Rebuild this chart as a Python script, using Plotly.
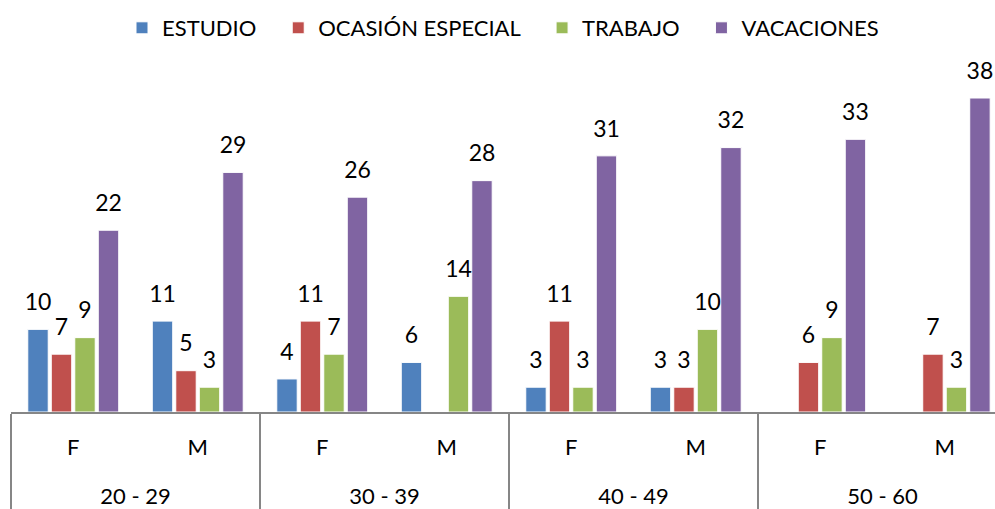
import plotly.graph_objects as go

age_groups = ["20 - 29", "20 - 29", "30 - 39", "30 - 39", "40 - 49", "40 - 49", "50 - 60", "50 - 60"]
sexes = ["F", "M", "F", "M", "F", "M", "F", "M"]

estudio = [10, 11, 4, 6, 3, 3, None, None]
ocasion = [7, 5, 11, None, 11, 3, 6, 7]
trabajo = [9, 3, 7, 14, 3, 10, 9, 3]
vacaciones = [22, 29, 26, 28, 31, 32, 33, 38]

series_names = ["ESTUDIO", "OCASIÓN ESPECIAL", "TRABAJO", "VACACIONES"]
series_values = [estudio, ocasion, trabajo, vacaciones]
series_colors = ["#4F81BD", "#C0504D", "#9BBB59", "#8064A2"]

# inner labels get an invisible tall second line so the outer level sits lower
sex_labels = [s + "<br><span style='font-size:52px'>&nbsp;</span>" for s in sexes]
xcats = [age_groups, sex_labels]

BARGAP = 0.245
fig = go.Figure()
for i, (name, vals, color) in enumerate(zip(series_names, series_values, series_colors)):
    pad = "&nbsp;" * 3 if i < len(series_names) - 1 else ""
    fig.add_trace(go.Bar(
        name=name + pad,
        x=xcats,
        y=vals,
        marker=dict(color=color, line=dict(color="white", width=1)),
        hovertemplate=name + ": %{y}<extra></extra>",
    ))
for name, vals, color in zip(series_names, series_values, series_colors):
    fig.add_trace(go.Scatter(
        x=xcats,
        y=vals,
        mode="markers+text",
        orientation="v",
        marker=dict(size=20, opacity=0, color=color),
        text=[("" if v is None else str(v)) for v in vals],
        textposition="top center",
        textfont=dict(size=23, color="black"),
        showlegend=False,
        hoverinfo="skip",
        cliponaxis=False,
    ))

FONT = "Lato, Carlito, Calibri, sans-serif"
fig.update_layout(
    width=995, height=509,
    margin=dict(l=11, r=0, t=60, b=97),
    paper_bgcolor="white", plot_bgcolor="white",
    font=dict(family=FONT, size=20, color="black"),
    barmode="group",
    bargap=BARGAP,
    bargroupgap=0.13,
    scattermode="group",
    scattergap=BARGAP,
    showlegend=True,
    legend=dict(orientation="h", x=0.5, xanchor="center", y=1 - 28 / 509, yanchor="middle",
                yref="container", font=dict(size=22), itemclick=False),
    xaxis=dict(
        type="multicategory",
        range=[-0.5, 7.404],
        automargin=False,
        showline=True, linecolor="#868686", linewidth=2,
        ticks="", showgrid=False,
        ticklabelstandoff=15,
        showdividers=True, dividercolor="#868686", dividerwidth=2,
        tickfont=dict(size=22, color="black"),
    ),
    yaxis=dict(range=[0, 42.6], visible=False, showgrid=False, automargin=False),
)

fig.write_html("out.html", config={"displayModeBar": False},
               post_script="document.body.style.margin='0';")
